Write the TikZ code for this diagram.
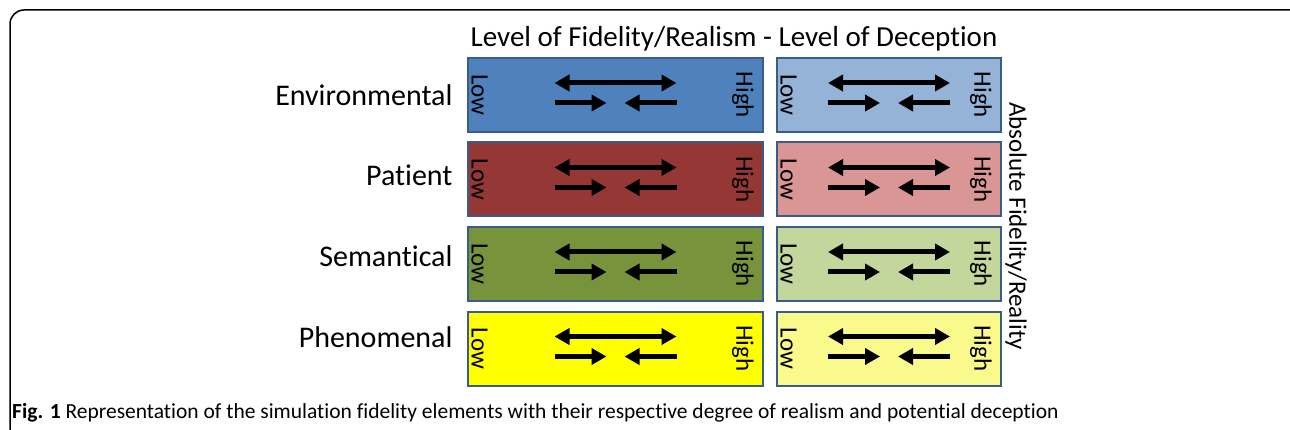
\documentclass[tikz,border=0pt]{standalone}
\usepackage{fontspec}
\setmainfont{Carlito}[Ligatures=NoCommon]
\usetikzlibrary{arrows.meta, positioning}
\definecolor{envdark}{HTML}{4F81BD}
\definecolor{envlight}{HTML}{95B3D7}
\definecolor{patdark}{HTML}{953735}
\definecolor{patlight}{HTML}{D99694}
\definecolor{semdark}{HTML}{77933C}
\definecolor{semlight}{HTML}{C3D69B}
\definecolor{phedark}{HTML}{FFFF00}
\definecolor{phelight}{HTML}{FAFA8C}
\definecolor{boxline}{HTML}{385D8A}
\tikzset{>={Triangle[length=15pt,width=16pt]},
levelbox/.style={draw=boxline, line width=2pt, minimum height=74pt},
wide/.style={levelbox, minimum width=295pt},
narrow/.style={levelbox, minimum width=224pt},
bar/.style={line width=5pt},
endtext/.style={rotate=-90, font=\fontsize{25}{25}\selectfont},
rowtext/.style={anchor=east, font=\fontsize{30}{30}\selectfont}}

\begin{document}
\begin{tikzpicture}[x=1pt,y=1pt]
\useasboundingbox (0,0) rectangle (1290,-430);
\clip (0,0) rectangle (1290,-430);
\draw[line width=1.5pt, rounded corners=14pt] (10,-10) rectangle (1310,-450);

\node[font=\fontsize{29}{29}\selectfont] (title) at (734,-39) {Level of Fidelity/Realism - Level of Deception};

\foreach \i/\lab/\cd/\cl/\yy/\ly in {1/Environmental/envdark/envlight/95/95,
2/Patient/patdark/patlight/179.5/175.5,
3/Semantical/semdark/semlight/264/256,
4/Phenomenal/phedark/phelight/348.5/337}{
\node[wide, fill=\cd] (L\i) at (615.5,-\yy) {};
\node[narrow, fill=\cl] (R\i) at (889,-\yy) {};
\node[rowtext] (name\i) at (456,-\ly) {\lab};
\foreach \b in {L\i,R\i}{
\node[endtext] (\b low) at ([xshift=12.5pt]\b.west) {Low};
\node[endtext] (\b high) at ([xshift=-21pt]\b.east) {High};
\coordinate (\b a) at ([xshift=-61pt,yshift=12pt]\b.center);
\coordinate (\b b) at ([xshift=61pt,yshift=12pt]\b.center);
\coordinate (\b c) at ([xshift=-61pt,yshift=-8pt]\b.center);
\coordinate (\b d) at ([xshift=-9pt,yshift=-8pt]\b.center);
\coordinate (\b e) at ([xshift=9pt,yshift=-8pt]\b.center);
\coordinate (\b f) at ([xshift=61pt,yshift=-8pt]\b.center);
\draw[bar, <->] (\b a) -- (\b b);
\draw[bar, ->] (\b c) -- (\b d);
\draw[bar, ->] (\b f) -- (\b e);
}
}

\node[rotate=-90, font=\fontsize{25}{25}\selectfont] (absolute) at (1016,-226) {Absolute Fidelity/Reality};

\node[anchor=base west, inner sep=0pt, font=\fontsize{21.5}{21.5}\selectfont] (caption) at (12,-418)
{\textbf{Fig. 1} Representation of the simulation fidelity elements with their respective degree of realism and potential deception};
\end{tikzpicture}
\end{document}
